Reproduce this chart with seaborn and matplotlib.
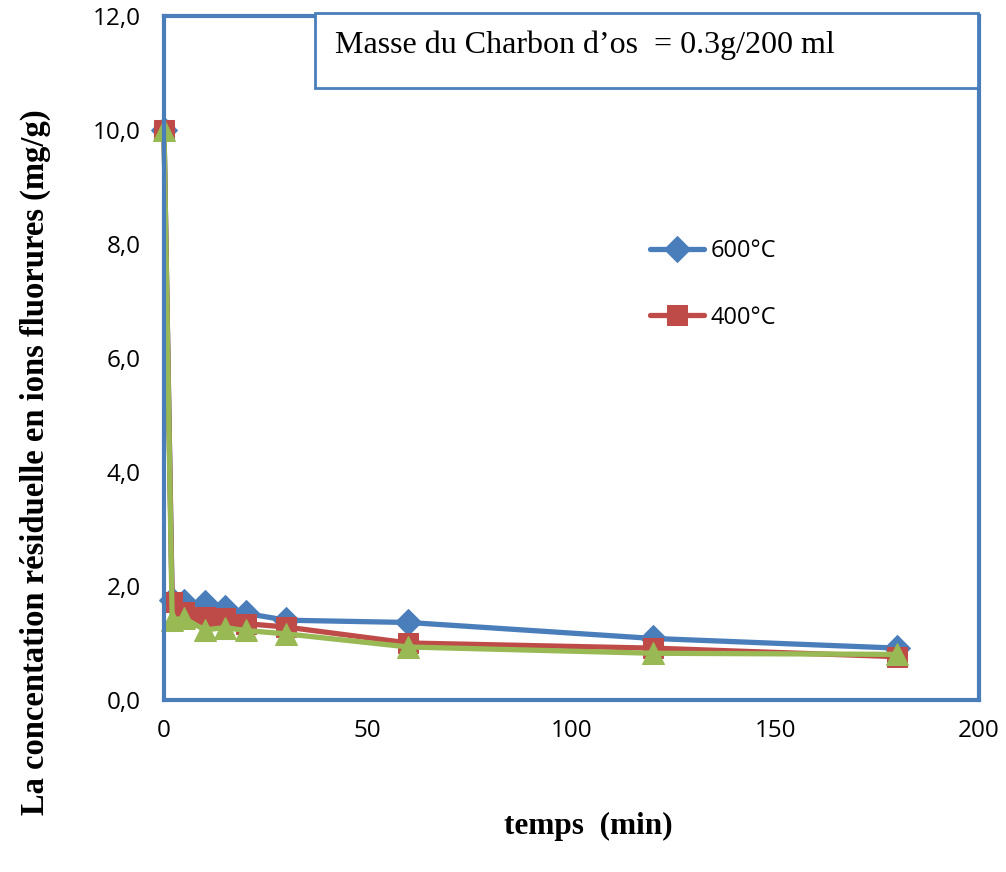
import numpy as np
import pandas as pd
import matplotlib
matplotlib.use('Agg')
import matplotlib.pyplot as plt
from matplotlib.ticker import MultipleLocator, FuncFormatter
from matplotlib.patches import Rectangle
import seaborn as sns

# temps (min) et concentration résiduelle (mg/g)
temps = [0, 2, 5, 10, 15, 20, 30, 60, 120, 180]
c_600 = [10.0, 1.75, 1.72, 1.70, 1.62, 1.52, 1.40, 1.36, 1.08, 0.91]
c_400 = [10.0, 1.72, 1.55, 1.46, 1.43, 1.34, 1.28, 1.00, 0.91, 0.76]
c_vert = [10.0, 1.41, 1.43, 1.23, 1.27, 1.22, 1.16, 0.93, 0.82, 0.80]
series_names = ['600°C', '400°C', '_serie3']
note = 'Masse du Charbon d’os  = 0.3g/200 ml'

BLUE = '#4A7EBB'
RED = '#BE4B48'
GREEN = '#98B954'

sns.set_style('white')
plt.rcParams['font.family'] = ['Open Sans', 'DejaVu Sans']
plt.rcParams['text.color'] = 'black'
plt.rcParams['xtick.labelcolor'] = 'black'
plt.rcParams['ytick.labelcolor'] = 'black'

fig = plt.figure(figsize=(10.06, 8.72), dpi=100)
ax = fig.add_axes([164/1006, 1-700/872, (979-164)/1006, (700-16)/872])

styles = [(c_600, BLUE, 'D', 13), (c_400, RED, 's', 15), (c_vert, GREEN, '^', 16)]
for (vals, col, mk, ms), name in zip(styles, series_names):
  df = pd.DataFrame({'temps': temps, 'c': vals})
  sns.lineplot(data=df, x='temps', y='c', ax=ax, color=col, lw=3.8, marker=mk,
               markersize=ms, markeredgecolor=col, sort=False, label=name,
               clip_on=False)

ax.set_xlim(0, 200)
ax.set_ylim(0, 12)
ax.set_xlabel('')
ax.set_ylabel('')

for s in ax.spines.values():
  s.set_color(BLUE)
  s.set_linewidth(3)

ax.xaxis.set_major_locator(MultipleLocator(50))
ax.xaxis.set_minor_locator(MultipleLocator(10))
ax.yaxis.set_major_locator(MultipleLocator(2))
ax.yaxis.set_minor_locator(MultipleLocator(0.4))
ax.yaxis.set_major_formatter(FuncFormatter(lambda v, p: f'{v:.1f}'.replace('.', ',')))
ax.tick_params(axis='x', which='major', direction='inout', length=12, width=1.2, color='#888888',
               labelsize=17.5, pad=8)
ax.tick_params(axis='x', which='minor', direction='out', length=6, width=1.2, color='#888888')
ax.tick_params(axis='y', which='major', direction='out', length=7, width=1.2, color='#888888',
               labelsize=17.5, pad=10)
ax.tick_params(axis='y', which='minor', direction='in', length=6, width=1.2, color='#888888')

handles, labels = ax.get_legend_handles_labels()
ax.legend(handles[:2], labels[:2], loc='upper left', bbox_to_anchor=(650/1006, 1-239/872),
          bbox_transform=fig.transFigure, frameon=False, fontsize=17, labelspacing=1.8,
          handlelength=2.3, handletextpad=0.25, borderpad=0, borderaxespad=0)

# encadré de texte
fig.patches.append(Rectangle((315/1006, 1-88/872), (978-315)/1006, (88-13)/872,
                             transform=fig.transFigure, facecolor='white',
                             edgecolor=BLUE, lw=2, zorder=5))
fig.text(335/1006, 1-45/872, note, family='Liberation Serif', fontsize=23,
         va='center', ha='left', zorder=6)

fig.text(588/1006, 1-826/872, 'temps  (min)', family='Liberation Serif', fontsize=22.5,
         fontweight='bold', ha='center', va='center')
fig.text(35/1006, 1-462/872, 'La concentation résiduelle en ions fluorures (mg/g)',
         family='Liberation Serif', fontsize=23.5, fontweight='bold', rotation=90,
         ha='center', va='center')

fig.savefig('out.png', dpi=100)
